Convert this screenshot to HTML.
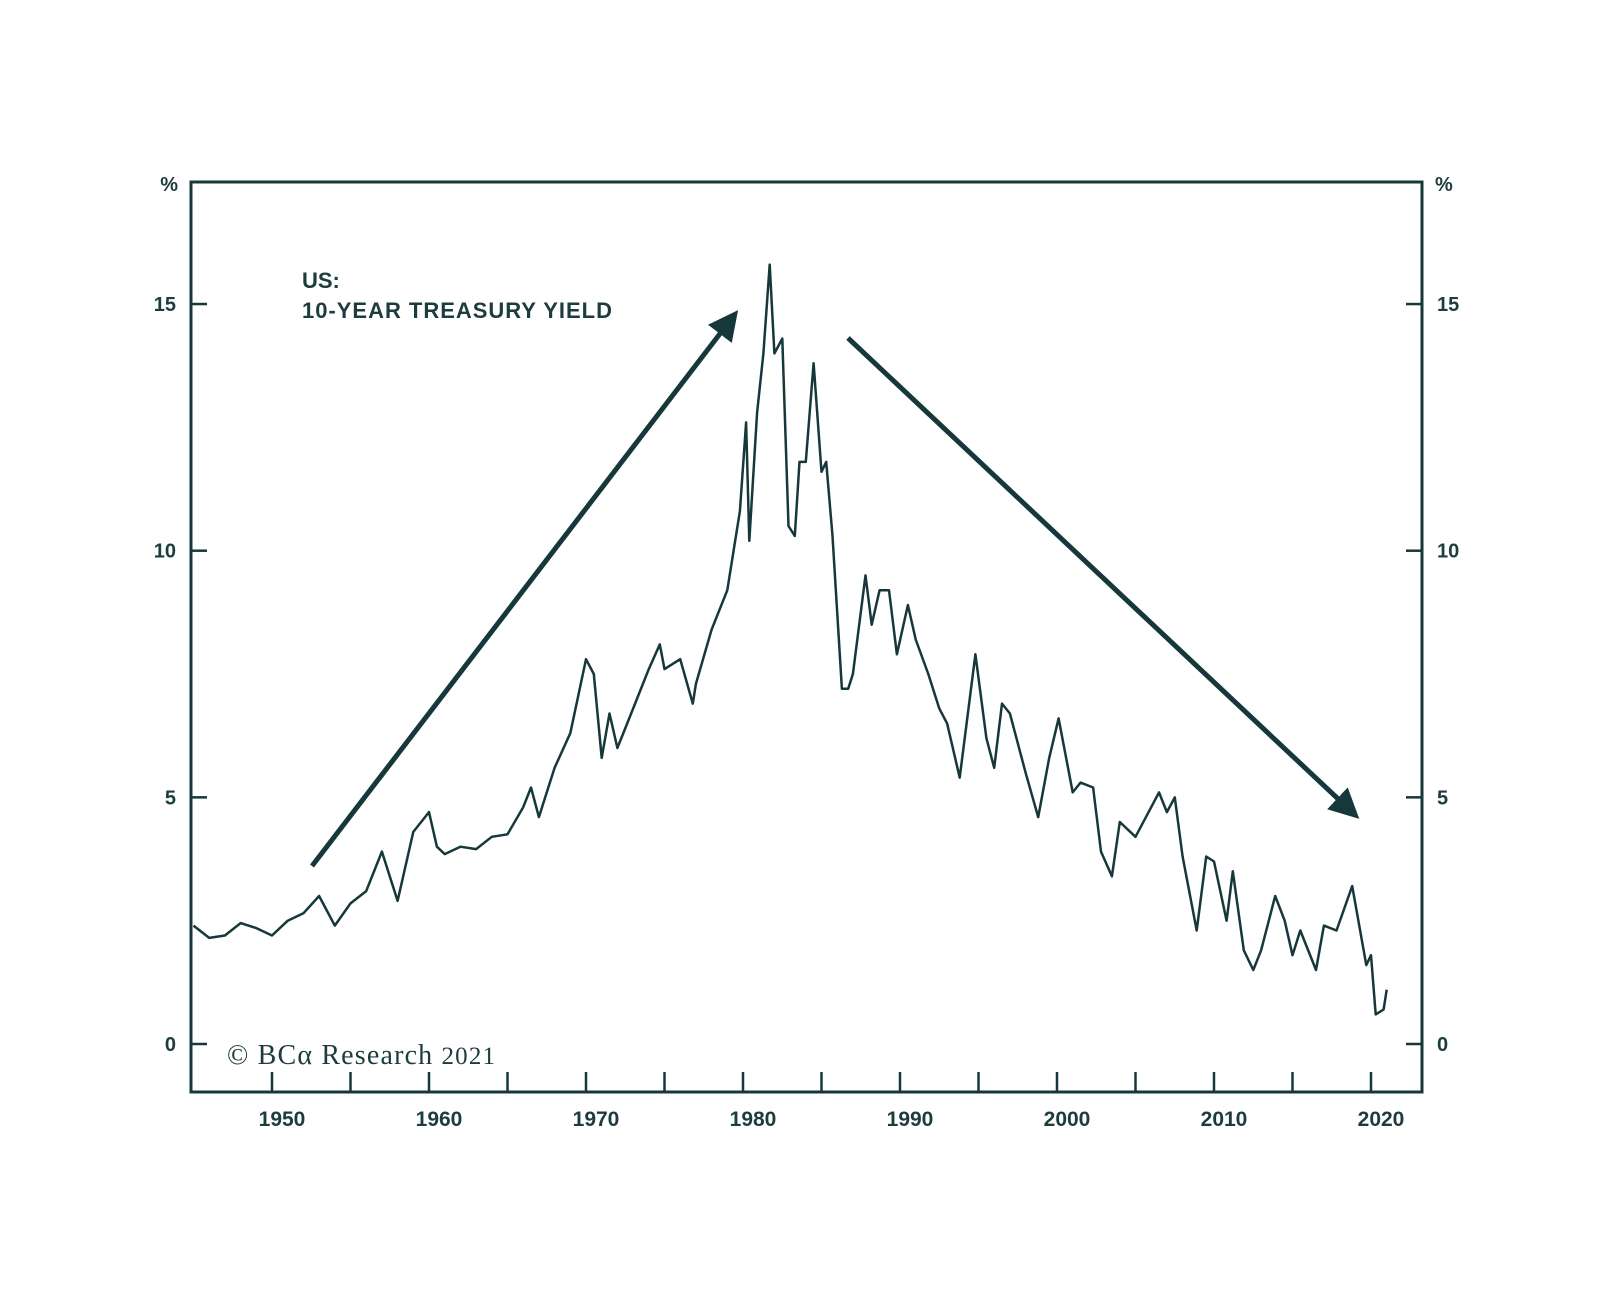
<!DOCTYPE html>
<html><head><meta charset="utf-8"><style>
html,body{margin:0;padding:0;background:#fff;}
svg{display:block;font-family:"Liberation Sans",sans-serif;}
</style></head><body>
<svg width="1600" height="1305" viewBox="0 0 1600 1305">
<defs><marker id="ah" markerWidth="6" markerHeight="6" refX="4" refY="3" orient="auto" markerUnits="strokeWidth"><path d="M0,0 L6,3 L0,6 Z" fill="#17383a"/></marker></defs>
<g id="axes"></g>
<g id="series"></g>
<text x="302" y="288" font-size="22" font-weight="bold" fill="#1d3c3e">US:</text>
<text x="302" y="318" font-size="22" font-weight="bold" fill="#1d3c3e" textLength="310">10-YEAR TREASURY YIELD</text>
<text x="227" y="1064" font-size="28" fill="#1d3c3e" font-family="Liberation Serif,serif" textLength="268">© BCα Research <tspan font-size="25">2021</tspan></text>
<line x1="312" y1="866" x2="732" y2="318" stroke="#17383a" stroke-width="5" marker-end="url(#ah)"/>
<line x1="848" y1="338" x2="1352" y2="812" stroke="#17383a" stroke-width="5" marker-end="url(#ah)"/>
</svg>
<script>
const years=[1945,1946,1947,1948,1949,1950,1951,1952,1953,1954,1955,1956,1957,1958,1959,1960,1960.5,1961,1962,1963,1964,1965,1966,1966.5,1967,1968,1969,1970,1970.5,1971,1971.5,1972,1973,1974,1974.7,1975,1976,1976.8,1977,1978,1979,1979.8,1980.2,1980.4,1980.9,1981.3,1981.7,1982,1982.5,1982.9,1983.3,1983.6,1984,1984.5,1985,1985.3,1985.7,1986.3,1986.7,1987,1987.8,1988.2,1988.7,1989.3,1989.8,1990.5,1991,1991.8,1992.5,1993,1993.8,1994.8,1995.5,1996,1996.5,1997,1998,1998.8,1999.5,2000.1,2001,2001.5,2002.3,2002.8,2003.5,2004,2005,2006.5,2007,2007.5,2008,2008.9,2009.5,2010,2010.8,2011.2,2011.9,2012.5,2013,2013.9,2014.5,2015,2015.5,2016.5,2017,2017.8,2018.8,2019.7,2020,2020.3,2020.8,2021];
const yields=[2.4,2.15,2.2,2.45,2.35,2.2,2.5,2.65,3.0,2.4,2.85,3.1,3.9,2.9,4.3,4.7,4.0,3.85,4.0,3.95,4.2,4.25,4.8,5.2,4.6,5.6,6.3,7.8,7.5,5.8,6.7,6.0,6.8,7.6,8.1,7.6,7.8,6.9,7.3,8.4,9.2,10.8,12.6,10.2,12.8,14.0,15.8,14.0,14.3,10.5,10.3,11.8,11.8,13.8,11.6,11.8,10.3,7.2,7.2,7.5,9.5,8.5,9.2,9.2,7.9,8.9,8.2,7.5,6.8,6.5,5.4,7.9,6.2,5.6,6.9,6.7,5.5,4.6,5.8,6.6,5.1,5.3,5.2,3.9,3.4,4.5,4.2,5.1,4.7,5.0,3.8,2.3,3.8,3.7,2.5,3.5,1.9,1.5,1.9,3.0,2.5,1.8,2.3,1.5,2.4,2.3,3.2,1.6,1.8,0.6,0.7,1.1];
const yTicks=[0,5,10,15];
const xTicks=[1950,1955,1960,1965,1970,1975,1980,1985,1990,1995,2000,2005,2010,2015,2020];
const xLabels=[1950,1960,1970,1980,1990,2000,2010,2020];
const L=191,R=1422,T=182,B=1092,C="#17383a",NS="http://www.w3.org/2000/svg";
const x=v=>272+(v-1950)*15.7, y=v=>1044-v*49.33;
function mk(t,a,p){const e=document.createElementNS(NS,t);for(const k in a)e.setAttribute(k,a[k]);p.appendChild(e);return e;}
const ax=document.getElementById('axes');
const fr=mk('rect',{x:L,y:T,width:R-L,height:B-T,fill:'none',stroke:C,'stroke-width':3},ax);


yTicks.forEach(v=>{
 const a=mk('line',{x1:L,x2:L+16,y1:y(v),y2:y(v),stroke:C,'stroke-width':2.5},ax);
 
 
 const b=mk('line',{x1:R-16,x2:R,y1:y(v),y2:y(v),stroke:C,'stroke-width':2.5},ax);
 
 
 const t1=mk('text',{x:L-15,y:y(v)+7,'text-anchor':'end','font-size':20,'font-weight':'bold',fill:'#1d3c3e'},ax);t1.textContent=v;
 
 
 const t2=mk('text',{x:R+15,y:y(v)+7,'font-size':20,'font-weight':'bold',fill:'#1d3c3e'},ax);t2.textContent=v;
 
 
});
[[L-13,'end'],[R+13,'start']].forEach(([px,an])=>{const p=mk('text',{x:px,y:191,'text-anchor':an,'font-size':20,'font-weight':'bold',fill:'#1d3c3e'},ax);p.textContent='%';
 
 });
xTicks.forEach(v=>{const l=mk('line',{x1:x(v),x2:x(v),y1:B-20,y2:B,stroke:C,'stroke-width':2.5},ax);
 
 });
xLabels.forEach(v=>{const t=mk('text',{x:x(v)+10,y:B+34,'text-anchor':'middle','font-size':21,'font-weight':'bold',fill:'#1d3c3e'},ax);t.textContent=v;
 
 });
const pts=years.map((v,i)=>x(v).toFixed(1)+','+y(yields[i]).toFixed(1)).join(' ');
const pl=mk('polyline',{points:pts,fill:'none',stroke:C,'stroke-width':2.5,'stroke-linejoin':'round'},document.getElementById('series'));


</script>
</body></html>
